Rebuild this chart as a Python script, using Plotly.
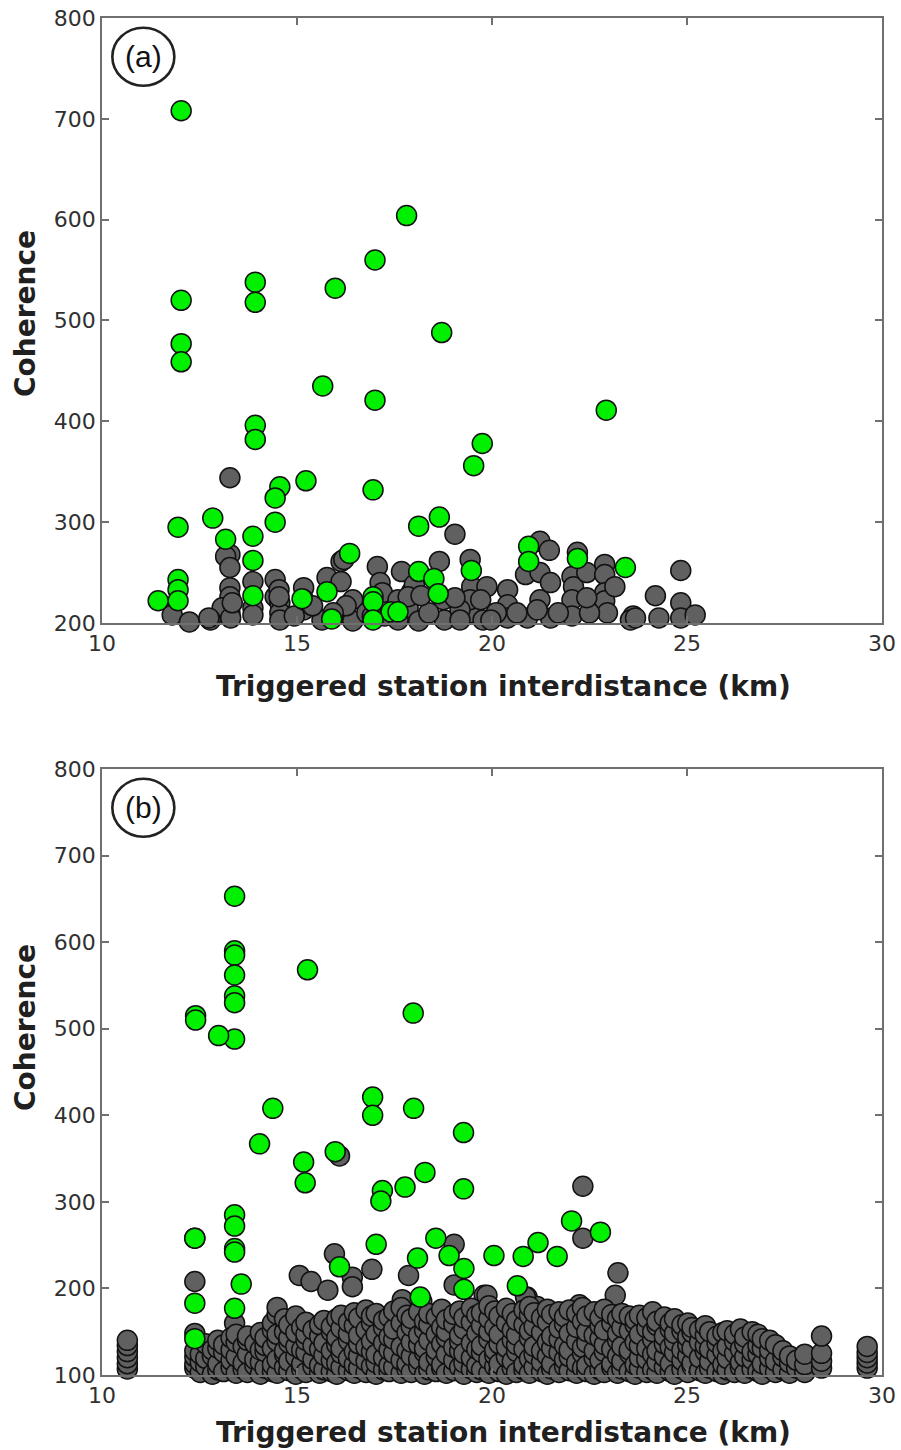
import plotly.graph_objects as go

# ---------------- Panel (a) ----------------
greenA_x = [12.03, 17.81, 17.0, 13.93, 13.93, 12.03, 15.98, 18.71, 12.03, 12.03, 15.66, 17.0, 13.93, 13.93,
            19.75, 19.53, 22.93, 15.23, 14.56, 14.44, 16.95, 12.84, 11.95, 14.44, 18.65, 18.12, 13.17, 13.87,
            16.35, 13.87, 20.94, 20.94, 22.19, 23.42, 18.12, 19.47, 18.51, 11.95, 11.95, 11.95, 11.44, 13.87,
            15.13, 15.77, 18.62, 16.95, 16.95, 17.41, 17.59, 15.89, 16.95]
greenA_y = [708, 604, 560, 538, 518, 520, 532, 488, 477, 459, 435, 421, 396, 382,
            378, 356, 411, 341, 335, 324, 332, 304, 295, 300, 305, 296, 283, 286,
            269, 262, 276, 261, 264, 255, 251, 252, 244, 243, 233, 222, 222, 227,
            224, 231, 229, 226, 221, 211, 211, 204, 203]

grayA_x = [13.28, 19.05, 21.23, 21.47, 22.19, 13.28, 13.17, 13.28, 13.28, 13.28, 13.28, 13.08, 13.3, 11.8,
           12.24, 12.78, 13.87, 13.87, 14.44, 14.44, 14.56, 14.56, 14.56, 15.17, 15.17, 15.64, 15.77, 16.13,
           16.13, 16.2, 16.43, 16.13, 16.43, 17.06, 17.13, 17.19, 17.68, 17.94, 17.59, 17.85, 18.12, 18.65,
           18.75, 18.78, 19.44, 19.48, 19.44, 19.87, 19.77, 20.4, 20.4, 20.4, 20.86, 21.23, 21.23, 21.5,
           21.5, 22.05, 22.09, 22.05, 22.05, 22.43, 22.89, 22.89, 22.89, 22.89, 22.96, 23.62, 24.19, 24.84,
           24.84, 24.84, 25.21, 24.28, 23.55, 22.5, 20.91, 21.16, 19.44, 19.71, 19.18, 18.38, 17.25, 17.59,
           14.93, 15.17, 13.87, 12.74, 18.01, 22.43, 23.15, 23.68, 21.7, 20.64, 20.11, 19.97, 19.18, 19.05,
           17.85, 18.18, 16.79, 16.93, 16.26, 15.93, 15.4, 14.54, 14.54, 13.34]
grayA_y = [344, 288, 281, 272, 270, 268, 266, 255, 235, 226, 210, 215, 205, 208,
           201, 203, 241, 215, 243, 226, 220, 210, 203, 235, 213, 203, 245, 241,
           261, 263, 223, 210, 202, 256, 240, 230, 251, 231, 223, 215, 202, 261,
           223, 203, 263, 236, 210, 236, 203, 233, 218, 205, 248, 250, 223, 240,
           205, 246, 236, 223, 207, 250, 258, 248, 230, 222, 210, 207, 227, 252,
           220, 205, 208, 205, 203, 210, 205, 213, 223, 223, 213, 210, 207, 203,
           207, 223, 208, 205, 238, 225, 236, 205, 210, 210, 210, 203, 203, 225,
           226, 227, 210, 207, 217, 210, 217, 233, 226, 220]

# ---------------- Panel (b) ----------------
greenB_x = [13.40, 13.40, 13.40, 13.40, 13.40, 13.40, 13.40, 12.40, 12.40, 12.99, 15.27, 17.98, 14.38,
            16.94, 16.94, 17.99, 14.04, 15.17, 15.21, 15.98, 19.27, 18.28, 17.77, 17.19, 17.15, 19.27,
            13.40, 13.40, 12.38, 13.40, 13.40, 17.03, 18.56, 18.9, 18.09, 20.05, 22.04, 22.78, 21.18,
            20.8, 21.67, 13.57, 12.38, 13.40, 12.38, 16.09, 19.28, 19.28, 18.16, 20.65]
greenB_y = [653, 590, 585, 562, 538, 530, 488, 515, 510, 492, 568, 518, 408,
            421, 400, 408, 367, 346, 322, 358, 380, 334, 317, 313, 301, 315,
            285, 272, 258, 246, 242, 251, 258, 238, 235, 238, 278, 265, 253,
            237, 237, 205, 183, 177, 142, 225, 223, 199, 190, 203]

# isolated grey points of panel (b)
grayB_out_x = [12.38, 12.38, 12.38, 16.09, 15.96, 19.03, 22.33, 22.33, 15.06, 15.36, 15.79, 16.42,
               16.42, 16.92, 17.86, 17.7, 19.03, 19.8, 20.9, 21.16, 22.27, 23.23, 23.16, 18.2,
               19.87, 20.86, 22.24, 13.40]
grayB_out_y = [258, 208, 148, 353, 240, 251, 318, 258, 215, 208, 198, 213,
               202, 222, 215, 187, 204, 192, 190, 179, 179, 218, 192, 185,
               192, 190, 181, 160]

# dense grey cluster of panel (b): distance columns and the coherence values read in each
grayB_col_x = [10.65, 12.38, 12.52, 12.66, 12.83, 12.97, 13.12, 13.31, 13.44, 13.62, 13.73, 13.92, 14.06,
               14.18, 14.37, 14.49, 14.68, 14.79, 14.97, 15.12, 15.23, 15.41, 15.58, 15.69, 15.88, 16.02,
               16.13, 16.32, 16.47, 16.58, 16.77, 16.91, 17.03, 17.22, 17.36, 17.48, 17.67, 17.82, 17.93,
               18.12, 18.27, 18.38, 18.57, 18.71, 18.83, 19.02, 19.17, 19.28, 19.47, 19.61, 19.73, 19.92,
               20.07, 20.18, 20.37, 20.52, 20.63, 20.82, 20.96, 21.08, 21.27, 21.42, 21.53, 21.72, 21.86,
               21.98, 22.17, 22.32, 22.43, 22.62, 22.77, 22.88, 23.07, 23.22, 23.33, 23.52, 23.67, 23.78,
               23.97, 24.12, 24.23, 24.42, 24.57, 24.68, 24.87, 25.02, 25.13, 25.32, 25.47, 25.58, 25.77,
               25.92, 26.03, 26.22, 26.37, 26.48, 26.67, 26.82, 26.93, 27.12, 27.27, 27.46, 27.63, 27.81,
               28.02, 28.45, 29.62]
grayB_col_y = [
    [107, 113, 120, 127, 134, 140],
    [108, 113, 121, 128],
    [103, 115, 124],
    [110, 119, 136],
    [101, 122, 129],
    [106, 113, 131, 140],
    [104, 126, 135],
    [109, 117, 129, 143],
    [102, 121, 138, 147],
    [107, 114, 133],
    [103, 124, 140, 145],
    [111, 118, 136],
    [101, 115, 129, 149],
    [108, 127, 134, 143],
    [104, 112, 131, 152, 160],
    [102, 118, 139, 147, 170, 178],
    [109, 124, 128, 150, 165],
    [105, 116, 137, 143, 158],
    [101, 121, 133, 149, 168],
    [107, 113, 129, 155],
    [103, 126, 140, 147, 161],
    [110, 118, 134, 152],
    [102, 111, 130, 145, 158],
    [106, 123, 137, 163],
    [104, 117, 128, 150, 156],
    [101, 114, 135, 143, 165],
    [109, 125, 131, 154, 169],
    [105, 119, 140, 148, 161],
    [102, 112, 127, 157, 172],
    [108, 122, 136, 146, 166],
    [103, 116, 132, 152, 175],
    [110, 127, 139, 160, 168],
    [101, 114, 124, 147, 171],
    [106, 120, 137, 155, 163],
    [104, 111, 129, 144, 167],
    [109, 125, 141, 153, 174],
    [102, 117, 133, 160, 178],
    [107, 113, 128, 149, 169],
    [103, 122, 138, 156, 165],
    [110, 118, 135, 146, 173],
    [101, 126, 131, 152, 162],
    [106, 115, 140, 158, 171],
    [104, 121, 129, 147, 167],
    [108, 112, 136, 155, 176],
    [102, 124, 143, 150, 164],
    [105, 117, 132, 159, 170],
    [109, 128, 139, 146, 174],
    [101, 114, 125, 153, 166],
    [107, 120, 137, 161, 177],
    [103, 111, 130, 148, 169],
    [106, 126, 134, 157, 172],
    [102, 118, 141, 150, 165, 180],
    [110, 123, 129, 155, 174],
    [104, 113, 136, 147, 168],
    [101, 121, 132, 160, 177],
    [108, 116, 140, 152, 171],
    [103, 127, 135, 146, 163],
    [106, 112, 130, 158, 175],
    [102, 119, 143, 151, 169, 179],
    [109, 124, 133, 156, 172],
    [104, 115, 128, 149, 166],
    [101, 122, 138, 161, 176],
    [107, 113, 131, 145, 170],
    [103, 126, 141, 154, 173],
    [110, 118, 134, 159, 167],
    [105, 121, 129, 148, 175],
    [102, 114, 139, 155, 171],
    [108, 125, 132, 162, 178],
    [104, 111, 137, 150, 168],
    [101, 120, 128, 146, 173],
    [106, 117, 142, 157, 166],
    [103, 127, 135, 152, 176],
    [109, 113, 130, 160, 170],
    [102, 122, 140, 148, 165],
    [107, 116, 133, 155, 171],
    [104, 125, 129, 151, 168],
    [101, 112, 138, 158, 164],
    [108, 120, 134, 147, 169],
    [103, 118, 131, 154, 166],
    [106, 124, 141, 150, 173],
    [102, 115, 128, 157, 162],
    [109, 121, 136, 145, 167],
    [104, 113, 132, 153, 160],
    [101, 126, 139, 148, 165],
    [107, 117, 129, 151, 158],
    [103, 122, 135, 144, 160],
    [110, 114, 131, 149, 155],
    [105, 120, 138, 152],
    [102, 127, 134, 146, 157],
    [108, 116, 130, 150],
    [104, 123, 137, 145],
    [101, 112, 128, 149],
    [106, 119, 133, 151],
    [103, 125, 139, 147],
    [109, 115, 130, 153],
    [102, 121, 136, 144],
    [107, 118, 127, 150],
    [104, 124, 134, 147],
    [101, 113, 131, 142],
    [108, 120, 129, 140],
    [103, 116, 135],
    [106, 121, 128],
    [102, 114, 122],
    [108, 117],
    [103, 112, 124],
    [108, 116, 125, 145],
    [108, 114, 120, 126, 133],
]

yticksA = [200, 300, 400, 500, 600, 700, 800]
yticksB = [100, 200, 300, 400, 500, 600, 700, 800]
xticks = [10, 15, 20, 25, 30]
panel_labels = ["(a)", "(b)"]
x_title = "Triggered station interdistance (km)"
y_title = "Coherence"

grayB_x = list(grayB_out_x)
grayB_y = list(grayB_out_y)
for cx, ys in zip(grayB_col_x, grayB_col_y):
    for v in ys:
        grayB_x.append(cx)
        grayB_y.append(v)

GRAY = "#606060"
GREEN = "#00f000"
mk_gray = dict(size=20, color=GRAY, line=dict(color="#111111", width=1.5))
mk_green = dict(size=20, color=GREEN, line=dict(color="#111111", width=1.5))

fig = go.Figure()
fig.add_trace(go.Scatter(x=grayA_x, y=grayA_y, mode="markers", marker=mk_gray,
                         xaxis="x", yaxis="y", cliponaxis=False, showlegend=False))
fig.add_trace(go.Scatter(x=greenA_x, y=greenA_y, mode="markers", marker=mk_green,
                         xaxis="x", yaxis="y", cliponaxis=False, showlegend=False))
fig.add_trace(go.Scatter(x=grayB_x, y=grayB_y, mode="markers", marker=mk_gray,
                         xaxis="x2", yaxis="y2", cliponaxis=False, showlegend=False))
fig.add_trace(go.Scatter(x=greenB_x, y=greenB_y, mode="markers", marker=mk_green,
                         xaxis="x2", yaxis="y2", cliponaxis=False, showlegend=False))

AXC = "#707070"
tickfont = dict(family="DejaVu Sans", size=22, color="#303030")
titlefont = dict(family="DejaVu Sans", size=28, color="#202020")

def xax(anchor):
    return dict(range=[10, 30], tickvals=xticks, anchor=anchor, domain=[0, 1],
                ticks="inside", ticklen=7, tickwidth=1.5, tickcolor=AXC,
                showline=True, linecolor=AXC, linewidth=1.5, mirror="ticks",
                showgrid=False, zeroline=False, tickfont=tickfont, automargin=False)

def yax(anchor, rng, tv, dom):
    return dict(range=rng, tickvals=tv, anchor=anchor, domain=dom,
                ticks="inside", ticklen=7, tickwidth=1.5, tickcolor=AXC,
                showline=True, linecolor=AXC, linewidth=1.5, mirror="ticks",
                showgrid=False, zeroline=False, tickfont=tickfont, automargin=False)

H = 1450.0
T, B = 18, 75
PH = H - T - B

def py(pix):
    # pixel row -> paper y
    return (H - B - pix) / PH

def px(pix):
    return (pix - 102) / 780.0

shapes = []
annotations = []
for i, lab in enumerate(panel_labels):
    xr = "x domain" if i == 0 else "x2 domain"
    yr = "y domain" if i == 0 else "y2 domain"
    shapes.append(dict(type="circle", xref=xr, yref=yr, xsizemode="pixel", ysizemode="pixel",
                       xanchor=0.053, yanchor=0.936, x0=-31, x1=31, y0=-29, y1=29,
                       line=dict(color="#222222", width=2.6), fillcolor="rgba(0,0,0,0)"))
    annotations.append(dict(text=lab, xref=xr, yref=yr, x=0.053, y=0.936, showarrow=False,
                            font=dict(family="Liberation Sans", size=30, color="#111111"),
                            xanchor="center", yanchor="middle"))

for xt_y, yt_y in [(686, 314), (1432, 1028)]:
    annotations.append(dict(text="<b>" + x_title + "</b>", xref="paper", yref="paper",
                            x=px(504), y=py(xt_y), showarrow=False, font=titlefont,
                            xanchor="center", yanchor="middle"))
    annotations.append(dict(text="<b>" + y_title + "</b>", xref="paper", yref="paper",
                            x=px(25), y=py(yt_y), showarrow=False, font=titlefont, textangle=-90,
                            xanchor="center", yanchor="middle"))

fig.update_layout(
    width=901, height=1450,
    margin=dict(l=102, r=19, t=18, b=75, autoexpand=False),
    paper_bgcolor="white", plot_bgcolor="white",
    xaxis=xax("y"), yaxis=yax("x", [200, 800], yticksA, [0.5542, 1.0]),
    xaxis2=xax("y2"), yaxis2=yax("x2", [100, 800], yticksB, [0.0, 0.4466]),
    shapes=shapes, annotations=annotations,
)

fig.write_html("out.html")
